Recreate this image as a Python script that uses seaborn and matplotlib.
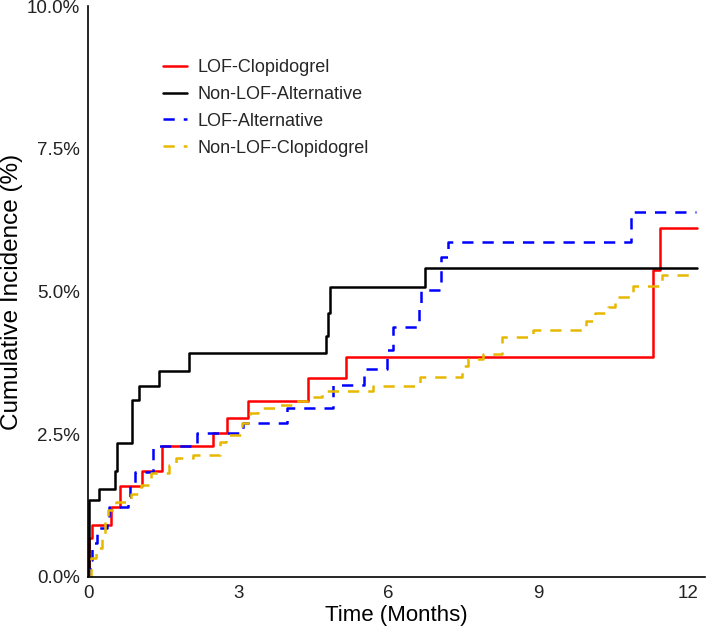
import matplotlib
matplotlib.use("Agg")
import matplotlib.pyplot as plt
import seaborn as sns
import pandas as pd
from matplotlib.ticker import FuncFormatter

# ---- data (months, cumulative incidence %) ----
lof_clop_t = [0, 0.02, 0.07, 0.45, 0.63, 1.08, 1.47, 2.49, 2.78, 3.20, 4.39, 5.15, 11.29, 11.43, 12.18]
lof_clop_y = [0, 0.68, 0.91, 1.22, 1.60, 1.86, 2.30, 2.52, 2.78, 3.09, 3.49, 3.86, 5.37, 6.11, 6.11]

nonlof_alt_t = [0, 0.01, 0.21, 0.53, 0.58, 0.88, 1.02, 1.42, 2.02, 4.75, 4.80, 4.83, 6.73, 12.17]
nonlof_alt_y = [0, 1.35, 1.54, 1.85, 2.35, 3.10, 3.35, 3.61, 3.93, 4.22, 4.62, 5.07, 5.42, 5.42]

lof_alt_t = [0, 0.03, 0.08, 0.18, 0.37, 0.42, 0.79, 0.83, 0.93, 1.30, 2.17, 3.10, 3.98, 4.90,
             5.51, 5.98, 6.10, 6.62, 6.65, 7.05, 7.20, 10.85, 12.15]
lof_alt_y = [0, 0.30, 0.60, 0.85, 1.00, 1.22, 1.40, 1.61, 1.83, 2.30, 2.52, 2.69, 2.96, 3.37,
             3.64, 3.98, 4.38, 4.77, 5.02, 5.61, 5.87, 6.40, 6.40]

nonlof_clop_t = [0, 0.05, 0.15, 0.27, 0.33, 0.40, 0.55, 0.85, 1.05, 1.25, 1.62, 1.75, 2.10, 2.63,
                 2.75, 3.07, 3.23, 3.40, 3.80, 4.13, 4.37, 4.67, 5.70, 6.63, 7.47, 7.60, 7.90,
                 8.27, 8.90, 9.95, 10.13, 10.40, 10.53, 10.90, 11.47, 12.15]
nonlof_clop_y = [0, 0.33, 0.50, 0.71, 0.97, 1.17, 1.32, 1.45, 1.61, 1.82, 1.96, 2.08, 2.14, 2.37,
                 2.49, 2.69, 2.87, 2.96, 3.02, 3.08, 3.16, 3.25, 3.34, 3.51, 3.69, 3.82, 3.91,
                 4.21, 4.33, 4.48, 4.62, 4.72, 4.90, 5.09, 5.29, 5.29]

groups = ["LOF-Clopidogrel", "Non-LOF-Alternative", "LOF-Alternative", "Non-LOF-Clopidogrel"]
colors = ["#FF0000", "#000000", "#0000FF", "#E7B800"]
dashed = [False, False, True, True]
series = [(lof_clop_t, lof_clop_y), (nonlof_alt_t, nonlof_alt_y),
          (lof_alt_t, lof_alt_y), (nonlof_clop_t, nonlof_clop_y)]

xticks = [0, 3, 6, 9, 12]
yticks = [0, 2.5, 5.0, 7.5, 10.0]

sns.set_style("white")
plt.rcParams["font.family"] = ["Liberation Sans", "DejaVu Sans"]

fig = plt.figure(figsize=(7.07, 6.33), dpi=100)
ax = fig.add_axes([0.1249, 0.0885, 0.872, 0.902])

for name, (t, y), c, d in zip(groups, series, colors, dashed):
    df = pd.DataFrame({"t": t, "y": y})
    kw = dict(dashes=(4.5, 3.6)) if d else {}
    sns.lineplot(data=df, x="t", y="y", ax=ax, color=c, lw=1.8,
                 drawstyle="steps-post", estimator=None, sort=False,
                 label=name, **kw)

ax.set_xlim(0, 12.33)
ax.set_ylim(0, 10)
ax.set_xticks(xticks)
ax.set_yticks(yticks)
ax.yaxis.set_major_formatter(FuncFormatter(lambda v, p: f"{v:.1f}%"))
ax.tick_params(axis="both", which="major", length=4, width=1, labelsize=13.5,
               color="black", labelcolor="#222222", direction="out", pad=2)
ax.set_xlabel("Time (Months)", fontsize=16, color="black", labelpad=2)
ax.set_ylabel("Cumulative Incidence (%)", fontsize=17.5, color="black", labelpad=3)
for s in ["top", "right"]:
    ax.spines[s].set_visible(False)
for s in ["left", "bottom"]:
    ax.spines[s].set_color("black")
    ax.spines[s].set_linewidth(1.2)

leg = ax.legend(loc="upper left", bbox_to_anchor=(0.11, 0.92), frameon=False,
                fontsize=13, handlelength=1.3, handletextpad=0.6, labelspacing=0.55,
                borderaxespad=0)

fig.savefig("out.png", dpi=100)
